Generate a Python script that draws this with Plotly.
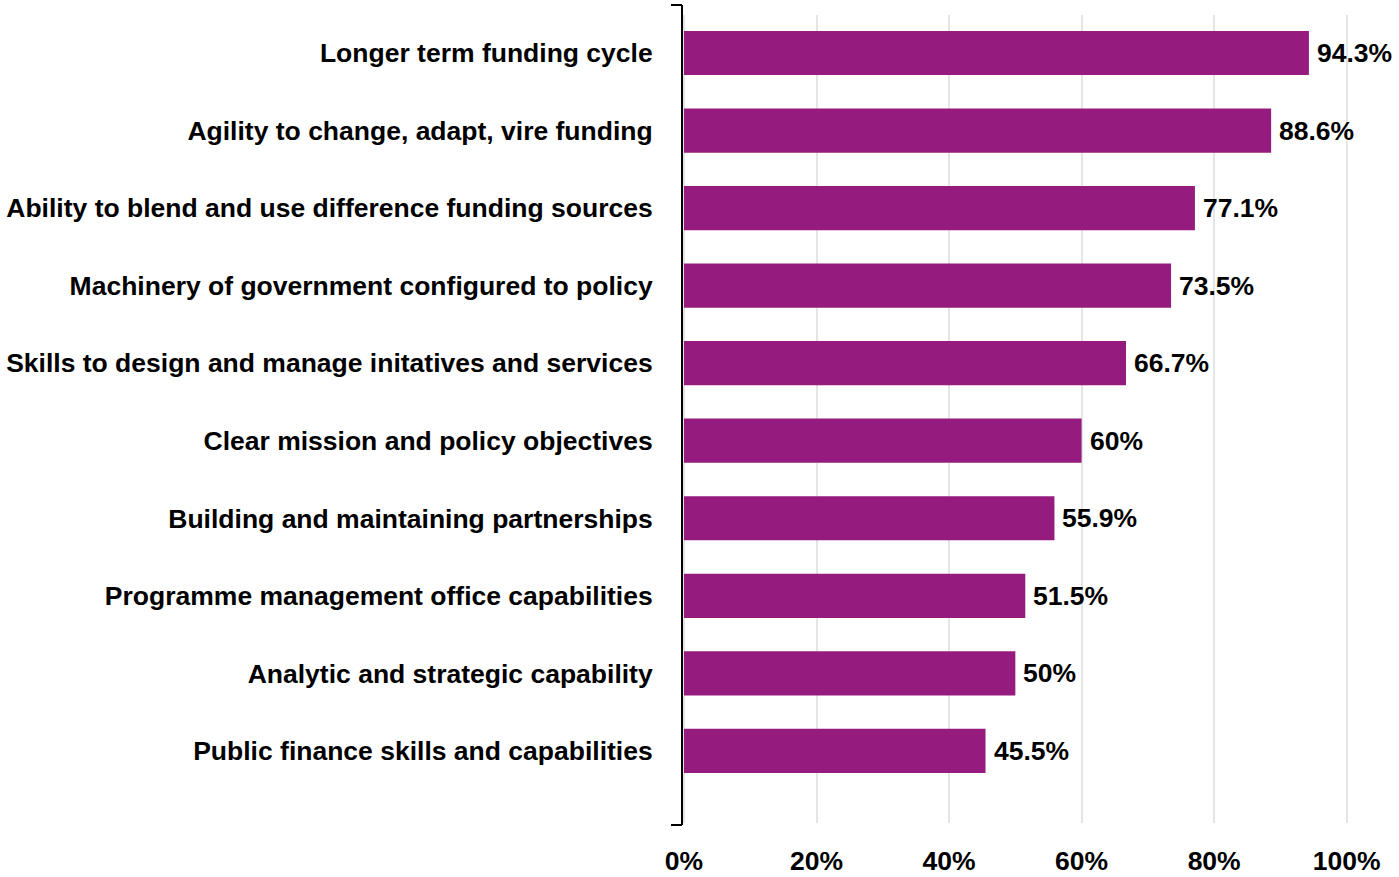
import plotly.graph_objects as go

categories = [
    "Longer term funding cycle",
    "Agility to change, adapt, vire funding",
    "Ability to blend and use difference funding sources",
    "Machinery of government configured to policy",
    "Skills to design and manage initatives and services",
    "Clear mission and policy objectives",
    "Building and maintaining partnerships",
    "Programme management office capabilities",
    "Analytic and strategic capability",
    "Public finance skills and capabilities",
]
values = [94.3, 88.6, 77.1, 73.5, 66.7, 60, 55.9, 51.5, 50, 45.5]
x_ticks = [0, 20, 40, 60, 80, 100]
x_tick_labels = ["0%", "20%", "40%", "60%", "80%", "100%"]

FONT = "Liberation Sans, Arial, sans-serif"
BAR_COLOR = "#951c7e"
SIZE = 26.5

fig = go.Figure(
    go.Bar(
        x=values,
        y=categories,
        orientation="h",
        width=0.57,
        marker=dict(color=BAR_COLOR, line=dict(width=0)),
        hoverinfo="skip",
    )
)

# value labels placed just past the end of each bar
for cat, v in zip(categories, values):
    fig.add_annotation(
        x=v, y=cat, xref="x", yref="y",
        text=f"{v:g}%",
        showarrow=False,
        xanchor="left", yanchor="middle",
        xshift=6,
        font=dict(family=FONT, size=SIZE, color="black", weight="bold"),
    )

fig.update_layout(
    width=1399,
    height=877,
    margin=dict(l=682, r=49, t=15, b=54, autoexpand=False),
    paper_bgcolor="white",
    plot_bgcolor="white",
    showlegend=False,
    font=dict(family=FONT, color="black"),
)

fig.update_xaxes(
    range=[-0.3, 100.5],
    tickvals=x_ticks,
    ticktext=x_tick_labels,
    showgrid=True,
    gridcolor="#e5e5e5",
    gridwidth=2,
    zeroline=False,
    showline=False,
    ticks="outside",
    ticklen=14,
    tickcolor="rgba(0,0,0,0)",
    automargin=False,
    tickfont=dict(family=FONT, size=SIZE, color="black", weight="bold"),
)

fig.update_yaxes(
    categoryorder="array",
    categoryarray=categories,
    range=[9.93, -0.49],
    showgrid=False,
    zeroline=False,
    showline=False,
    ticks="outside",
    ticklen=23,
    tickcolor="rgba(0,0,0,0)",
    automargin=False,
    tickfont=dict(family=FONT, size=SIZE, color="black", weight="bold"),
)

# bracket-style vertical axis line with short end ticks
top, bottom = 1.0124, -0.0025
tick_w = -0.0165
line = dict(color="black", width=2)
fig.add_shape(type="line", xref="paper", yref="paper", x0=0, x1=0, y0=bottom, y1=top, line=line)
fig.add_shape(type="line", xref="paper", yref="paper", x0=tick_w, x1=0, y0=top, y1=top, line=line)
fig.add_shape(type="line", xref="paper", yref="paper", x0=tick_w, x1=0, y0=bottom, y1=bottom, line=line)

fig.write_html("out.html")
